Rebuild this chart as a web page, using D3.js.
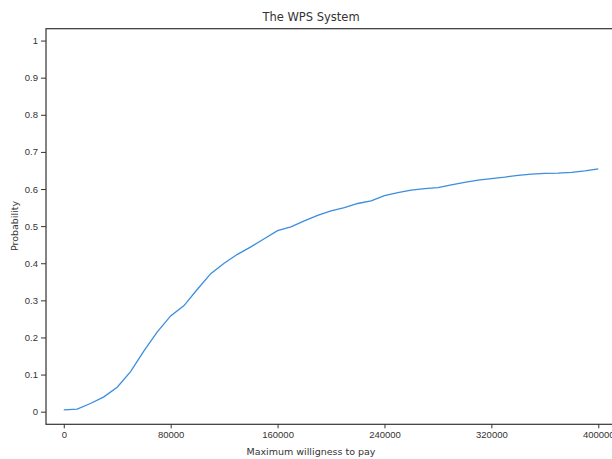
<!DOCTYPE html>
<html>
<head>
<meta charset="utf-8">
<script src="https://cdn.jsdelivr.net/npm/d3@7"></script>
<style>
  body { margin: 0; background: #fff; }
  svg { display: block; font-family: "DejaVu Sans", sans-serif; }
</style>
</head>
<body>
<div id="chart"></div>
<script>
// willingness to pay, every 10000
const wtp = d3.range(0, 400001, 10000);
const probability = [
  0.005, 0.007, 0.022, 0.040, 0.066, 0.108, 0.164, 0.215, 0.258, 0.286,
  0.330, 0.372, 0.400, 0.424, 0.444, 0.466, 0.488, 0.498, 0.514, 0.529,
  0.541, 0.550, 0.561, 0.568, 0.582, 0.590, 0.597, 0.601, 0.604, 0.611,
  0.618, 0.624, 0.628, 0.632, 0.637, 0.640, 0.642, 0.643, 0.645, 0.649,
  0.654
];
const xTicks = [0, 80000, 160000, 240000, 320000, 400000];
const yTicks = [0, 0.1, 0.2, 0.3, 0.4, 0.5, 0.6, 0.7, 0.8, 0.9, 1];

const width = 612;
const height = 459;
const margin = { top: 28.7, left: 46, bottom: 459 - 424.3 };
const plotRight = 625;

const x = d3.scaleLinear().domain([-13300, 420000]).range([margin.left, plotRight]);
const y = d3.scaleLinear().domain([-0.034, 1.032]).range([height - margin.bottom, margin.top]);

const svg = d3.select('#chart')
  .append('svg')
  .attr('width', width)
  .attr('height', height);

const data = wtp.map((d, i) => ({ x: d, y: probability[i] }));

svg.append('path')
  .datum(data)
  .attr('fill', 'none')
  .attr('stroke', '#3b8de0')
  .attr('stroke-width', 1.3)
  .attr('d', d3.line().x(d => x(d.x)).y(d => y(d.y)));

const xAxis = svg.append('g')
  .attr('transform', `translate(0,${y.range()[0]})`)
  .call(d3.axisBottom(x).tickValues(xTicks).tickFormat(d3.format('d')).tickSize(4).tickPadding(3));

const yAxis = svg.append('g')
  .attr('transform', `translate(${margin.left},0)`)
  .call(d3.axisLeft(y).tickValues(yTicks).tickFormat(d => d === 0 || d === 1 ? d : d3.format('.1f')(d)).tickSize(5).tickPadding(3));

[xAxis, yAxis].forEach(g => {
  g.select('.domain').remove();
  g.selectAll('line').attr('stroke', '#333').attr('stroke-width', 1);
  g.selectAll('text').attr('fill', '#333').style('font-size', '9.5px');
});

// spines (right one falls outside the picture)
svg.append('rect')
  .attr('x', margin.left)
  .attr('y', margin.top)
  .attr('width', plotRight - margin.left)
  .attr('height', y.range()[0] - margin.top)
  .attr('fill', 'none')
  .attr('stroke', '#333')
  .attr('stroke-width', 1.2);

svg.append('text')
  .attr('x', 311)
  .attr('y', 21)
  .attr('text-anchor', 'middle')
  .attr('fill', '#333')
  .style('font-size', '11.5px')
  .text('The WPS System');

svg.append('text')
  .attr('x', 311)
  .attr('y', 455)
  .attr('text-anchor', 'middle')
  .attr('fill', '#333')
  .style('font-size', '9.5px')
  .text('Maximum willigness to pay');

svg.append('text')
  .attr('transform', 'translate(18,226) rotate(-90)')
  .attr('text-anchor', 'middle')
  .attr('fill', '#333')
  .style('font-size', '9.5px')
  .text('Probability');
</script>
</body>
</html>
